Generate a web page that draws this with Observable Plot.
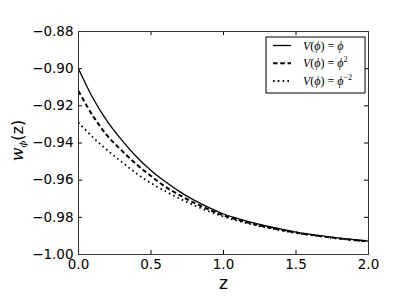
<!DOCTYPE html>
<html>
<head>
<meta charset="utf-8">
<script src="https://cdn.jsdelivr.net/npm/d3@7"></script>
<script src="https://cdn.jsdelivr.net/npm/@observablehq/plot@0.6"></script>
<style>
  html, body { margin: 0; padding: 0; background: #fff; }
  #chart { width: 409px; height: 307px; }
</style>
</head>
<body>
<div id="chart"></div>
<script>
// Redshift grid
const z = [0.0, 0.1, 0.2, 0.3, 0.4, 0.5, 0.6, 0.7, 0.8, 0.9, 1.0,
           1.1, 1.2, 1.3, 1.4, 1.5, 1.6, 1.7, 1.8, 1.9, 2.0];
// w_phi(z) for V(phi) = phi (solid)
const wPhi = [-0.9000, -0.9159, -0.9285, -0.9386, -0.9474, -0.9548, -0.9609, -0.9663, -0.9709, -0.9748, -0.9782,
              -0.9807, -0.9829, -0.9848, -0.9864, -0.9880, -0.9892, -0.9902, -0.9912, -0.9920, -0.9928];
// w_phi(z) for V(phi) = phi^2 (dashed)
const wPhi2 = [-0.9120, -0.9255, -0.9362, -0.9442, -0.9515, -0.9578, -0.9636, -0.9682, -0.9723, -0.9758, -0.9789,
               -0.9813, -0.9834, -0.9852, -0.9868, -0.9882, -0.9894, -0.9904, -0.9914, -0.9922, -0.9929];
// w_phi(z) for V(phi) = phi^-2 (dotted)
const wPhiM2 = [-0.9290, -0.9370, -0.9440, -0.9503, -0.9564, -0.9616, -0.9660, -0.9700, -0.9736, -0.9768, -0.9796,
                -0.9819, -0.9839, -0.9856, -0.9871, -0.9884, -0.9896, -0.9906, -0.9915, -0.9923, -0.9930];

const xTicks = [0.0, 0.5, 1.0, 1.5, 2.0];
const yTicks = [-1.00, -0.98, -0.96, -0.94, -0.92, -0.90, -0.88];
const seriesExponents = ["", "2", "−2"]; // V(ϕ) = ϕ, ϕ², ϕ⁻²

const rows = (ys) => z.map((zz, i) => ({z: zz, w: ys[i]}));

const W = 409, H = 307;
const mL = 78, mR = 41, mT = 31, mB = 53;
const plotW = W - mL - mR, plotH = H - mT - mB;
const tick = 4;
const font = "'DejaVu Sans', sans-serif";

const svg = Plot.plot({
  width: W,
  height: H,
  marginLeft: mL,
  marginRight: mR,
  marginTop: mT,
  marginBottom: mB,
  style: {background: "#fff", fontFamily: font, fontSize: "13.5px", color: "#000"},
  x: {domain: [0, 2]},
  y: {domain: [-1.0, -0.88]},
  marks: [
    Plot.axisX(xTicks, {tickSize: 0, tickPadding: 5, tickFormat: d3.format(".1f"), label: null, fontSize: 13.5}),
    Plot.axisY(yTicks, {tickSize: 0, tickPadding: 5, tickFormat: d3.format(".2f"), label: null, fontSize: 13.5}),
    // inward ticks on all four sides
    Plot.tickY(yTicks, {y: d => d, insetRight: plotW - tick, stroke: "#000", strokeWidth: 1}),
    Plot.tickY(yTicks, {y: d => d, insetLeft: plotW - tick, stroke: "#000", strokeWidth: 1}),
    Plot.tickX(xTicks, {x: d => d, insetTop: plotH - tick, stroke: "#000", strokeWidth: 1}),
    Plot.tickX(xTicks, {x: d => d, insetBottom: plotH - tick, stroke: "#000", strokeWidth: 1}),
    Plot.line(rows(wPhiM2), {x: "z", y: "w", curve: "catmull-rom", stroke: "#000", strokeWidth: 1.8, strokeDasharray: "1.6,3.2", strokeLinecap: "butt"}),
    Plot.line(rows(wPhi2), {x: "z", y: "w", curve: "catmull-rom", stroke: "#000", strokeWidth: 2, strokeDasharray: "4.5,2.8", strokeLinecap: "butt"}),
    Plot.line(rows(wPhi), {x: "z", y: "w", curve: "catmull-rom", stroke: "#000", strokeWidth: 1.3}),
    Plot.frame({stroke: "#333", strokeWidth: 1}),
    Plot.text(["z"], {frameAnchor: "bottom", dy: 34, text: d => d, fontSize: 17, lineAnchor: "bottom", fill: "#000"})
  ]
});

const s = d3.select(svg);

// y-axis label: w_ϕ(z)
const yl = s.append("text")
  .attr("transform", "translate(22.5," + (mT + plotH / 2 - 2) + ") rotate(-90)")
  .attr("text-anchor", "middle")
  .attr("fill", "#000")
  .style("font-family", font)
  .style("font-size", "16px");
yl.append("tspan").style("font-family", "'DejaVu Serif', serif").style("font-style", "italic").text("w");
yl.append("tspan").attr("dy", 3.5).style("font-family", "'DejaVu Serif', serif").style("font-style", "italic").style("font-size", "10px").text("ϕ");
yl.append("tspan").attr("dy", -3.5).text("(z)");

// legend
const lg = s.append("g").attr("text-anchor", "start");
const bx = 266, by = 37, bw = 99, bh = 56;
lg.append("rect").attr("x", bx).attr("y", by).attr("width", bw).attr("height", bh)
  .attr("fill", "#fff").attr("stroke", "#000").attr("stroke-width", 1);
const styles = [
  {w: 1.3, dash: null},
  {w: 2, dash: "4.5,2.8"},
  {w: 1.8, dash: "1.6,3.2"}
];
const rowY = [45.5, 63.3, 81];
const serif = "'Liberation Serif', 'DejaVu Serif', serif";
seriesExponents.forEach((ex, i) => {
  const y = rowY[i];
  const ln = lg.append("line").attr("x1", 273).attr("x2", 291).attr("y1", y).attr("y2", y)
    .attr("stroke", "#000").attr("stroke-width", styles[i].w);
  if (styles[i].dash) ln.attr("stroke-dasharray", styles[i].dash);
  const t = lg.append("text").attr("x", 303).attr("y", y + 4)
    .attr("text-anchor", "start")
    .attr("fill", "#000").style("font-family", serif).style("font-size", "12px");
  t.append("tspan").style("font-style", "italic").text("V");
  t.append("tspan").text("(");
  t.append("tspan").style("font-style", "italic").text("ϕ");
  t.append("tspan").text(") = ");
  t.append("tspan").style("font-style", "italic").text("ϕ");
  if (ex) t.append("tspan").attr("dy", -5).style("font-size", "8px").text(ex);
});

document.getElementById("chart").appendChild(svg);
</script>
</body>
</html>
